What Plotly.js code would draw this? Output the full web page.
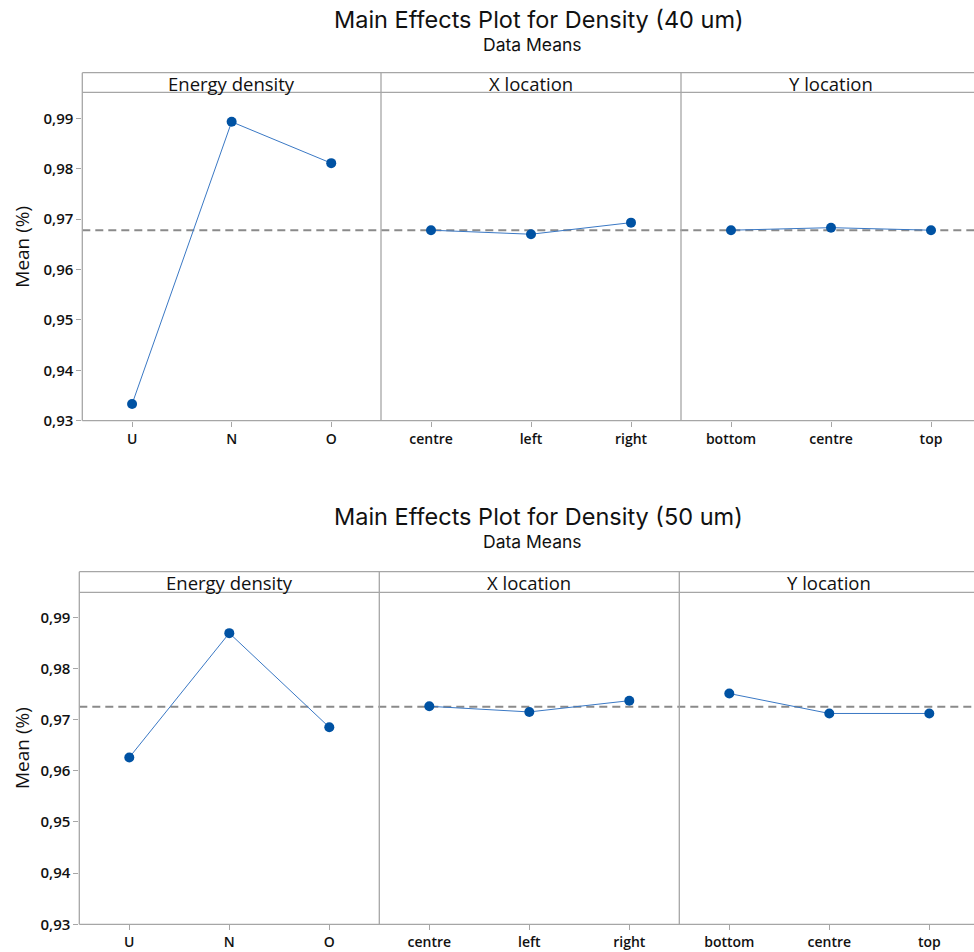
<!DOCTYPE html>
<html><head><meta charset="utf-8">
<script src="https://cdn.plot.ly/plotly-3.0.1.min.js"></script>
<style>html,body{margin:0;padding:0;background:#fff;overflow:hidden}#chart{width:990px;height:952px}</style>
</head><body><div id="chart"></div>
<script>
// ---- data ----
const energyLevels = ['U', 'N', 'O'];
const xLocLevels = ['centre', 'left', 'right'];
const yLocLevels = ['bottom', 'centre', 'top'];
const panelTitles = ['Energy density', 'X location', 'Y location'];

const energy40 = [0.9333, 0.9893, 0.9811];
const xLoc40   = [0.9678, 0.9670, 0.9693];
const yLoc40   = [0.9678, 0.9683, 0.9678];
const mean40   = 0.9678;

const energy50 = [0.9626, 0.9869, 0.9685];
const xLoc50   = [0.9726, 0.9715, 0.9737];
const yLoc50   = [0.9751, 0.9712, 0.9712];
const mean50   = 0.9725;

const yTickVals = [0.93, 0.94, 0.95, 0.96, 0.97, 0.98, 0.99];
const chartTitles = ['Main Effects Plot for Density (40 um)', 'Main Effects Plot for Density (50 um)'];
const subTitle = 'Data Means';
const yTitle = 'Mean (%)';

// ---- geometry (pixels); the figure is wider than the 974px window so the right panel is cut like the reference ----
const W = 990, H = 952;
const px = v => v / W;
const py = v => 1 - v / H;
const rows = [
  { left: 82.3, div1: 381, div2: 681, right: 981, headTop: 72.7, plotTop: 92.3, bottom: 420.7, yTop: 0.99516, titleY: 19, subY: 44.5 },
  { left: 79.3, div1: 379.3, div2: 679.3, right: 979.3, headTop: 571.7, plotTop: 592.3, bottom: 924.3, yTop: 0.99488, titleY: 516, subY: 541.5 }
];
const series = [[energy40, xLoc40, yLoc40], [energy50, xLoc50, yLoc50]];
const means = [mean40, mean50];
const levels = [energyLevels, xLocLevels, yLocLevels];

const FONT = 'Open Sans, Noto Sans, sans-serif';
const TFONT = 'Inter, Open Sans, sans-serif';
const GRID = '#a6a6a6';
const TXT = '#111111';

const data = [];
const layout = {
  width: W, height: H,
  margin: { l: 0, r: 0, t: 0, b: 0 },
  paper_bgcolor: '#fff', plot_bgcolor: '#fff',
  showlegend: false,
  separators: ',.',
  font: { family: FONT, color: TXT },
  shapes: [], annotations: []
};

rows.forEach((r, ri) => {
  const yName = ri === 0 ? 'y' : 'y2';
  const yKey = ri === 0 ? 'yaxis' : 'yaxis2';
  const bounds = [[r.left, r.div1], [r.div1, r.div2], [r.div2, r.right]];
  bounds.forEach((b, pi) => {
    const idx = ri * 3 + pi + 1;
    const xName = idx === 1 ? 'x' : 'x' + idx;
    const xKey = idx === 1 ? 'xaxis' : 'xaxis' + idx;
    layout[xKey] = {
      domain: [px(b[0]), px(b[1])],
      anchor: yName,
      type: 'category',
      range: [-0.5, 2.5],
      showgrid: false, zeroline: false, showline: false,
      ticks: 'outside', ticklen: 5, tickwidth: 1, tickcolor: GRID,
      tickfont: { size: 14, color: TXT, family: FONT, weight: 600 },
      fixedrange: true
    };
    data.push({
      type: 'scatter', mode: 'lines+markers',
      x: levels[pi], y: series[ri][pi],
      xaxis: xName, yaxis: yName,
      line: { color: '#3a78c4', width: 1 },
      marker: { color: '#0052a3', size: 10 },
      cliponaxis: false, hoverinfo: 'skip'
    });
    layout.annotations.push({
      xref: 'paper', yref: 'paper',
      x: px((b[0] + b[1]) / 2),
      y: py((r.headTop + r.plotTop) / 2 + 0.5),
      text: panelTitles[pi], showarrow: false,
      xanchor: 'center', yanchor: 'middle',
      font: { size: 18.5, color: TXT, family: FONT }
    });
  });
  layout[yKey] = {
    domain: [py(r.bottom), py(r.plotTop)],
    anchor: ri === 0 ? 'x' : 'x4',
    range: [0.93, r.yTop],
    tickvals: yTickVals, tickformat: '.2f',
    showgrid: false, zeroline: false, showline: false,
    ticks: 'outside', ticklen: 5, tickwidth: 1, tickcolor: GRID,
    tickfont: { size: 15, color: TXT, family: FONT, weight: 600 },
    fixedrange: true
  };
  // frame lines
  const ln = (x0, y0, x1, y1) => layout.shapes.push({
    type: 'line', xref: 'paper', yref: 'paper',
    x0: px(x0), y0: py(y0), x1: px(x1), y1: py(y1),
    line: { color: GRID, width: 1.3 }
  });
  ln(r.left, r.headTop, r.right, r.headTop);
  ln(r.left, r.plotTop, r.right, r.plotTop);
  ln(r.left, r.bottom, r.right, r.bottom);
  ln(r.left, r.headTop, r.left, r.bottom);
  ln(r.div1, r.headTop, r.div1, r.bottom);
  ln(r.div2, r.headTop, r.div2, r.bottom);
  ln(r.right, r.headTop, r.right, r.bottom);
  // mean reference line
  layout.shapes.push({
    type: 'line', xref: 'paper', yref: yName,
    x0: px(r.left), x1: px(r.right), y0: means[ri], y1: means[ri],
    line: { color: '#8a8a8a', width: 2, dash: '8px,5px' }, layer: 'below'
  });
  // title and subtitle
  layout.annotations.push({
    xref: 'paper', yref: 'paper', x: px(538.5), y: py(r.titleY),
    text: chartTitles[ri], showarrow: false, xanchor: 'center', yanchor: 'middle',
    font: { size: 23.5, color: TXT, family: TFONT }
  });
  layout.annotations.push({
    xref: 'paper', yref: 'paper', x: px(532.5), y: py(r.subY),
    text: subTitle, showarrow: false, xanchor: 'center', yanchor: 'middle',
    font: { size: 17.5, color: TXT, family: TFONT }
  });
  layout.annotations.push({
    xref: 'paper', yref: 'paper', x: px(22), y: py((r.headTop + r.bottom) / 2),
    text: yTitle, showarrow: false, textangle: -90, xanchor: 'center', yanchor: 'middle',
    font: { size: 19, color: TXT, family: FONT }
  });
});

Plotly.newPlot('chart', data, layout, { displayModeBar: false, staticPlot: true });
</script>
</body></html>
